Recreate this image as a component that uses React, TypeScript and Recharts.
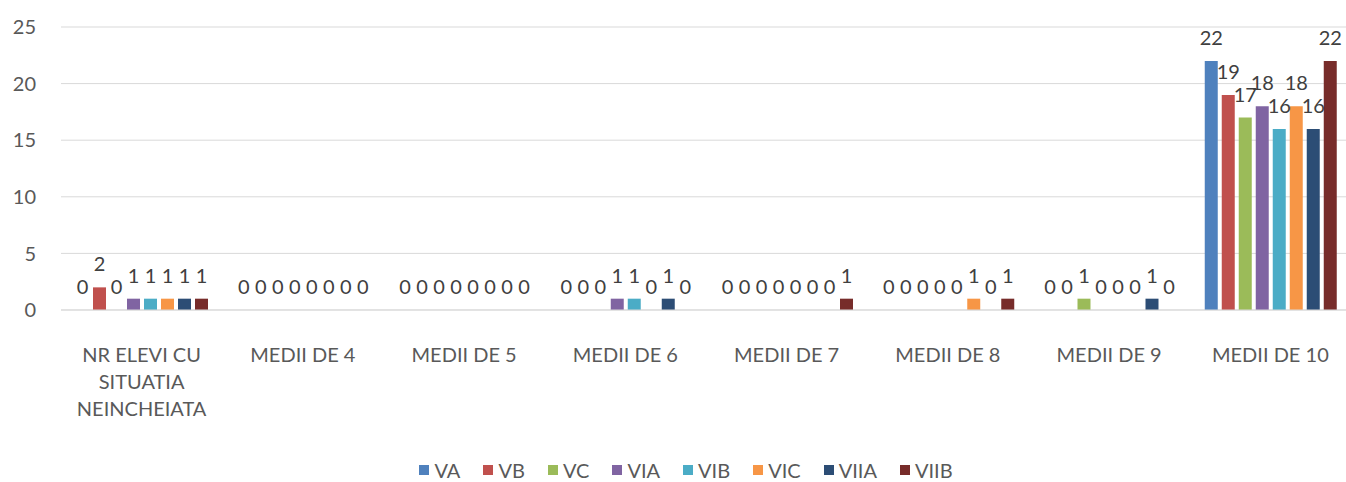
import { BarChart, Bar, XAxis, YAxis, CartesianGrid, Legend, LabelList } from "recharts";

const categories = [
  "NR ELEVI CU SITUATIA NEINCHEIATA",
  "MEDII DE 4",
  "MEDII DE 5",
  "MEDII DE 6",
  "MEDII DE 7",
  "MEDII DE 8",
  "MEDII DE 9",
  "MEDII DE 10",
];

const VA = [0, 0, 0, 0, 0, 0, 0, 22];
const VB = [2, 0, 0, 0, 0, 0, 0, 19];
const VC = [0, 0, 0, 0, 0, 0, 1, 17];
const VIA = [1, 0, 0, 1, 0, 0, 0, 18];
const VIB = [1, 0, 0, 1, 0, 0, 0, 16];
const VIC = [1, 0, 0, 0, 0, 1, 0, 18];
const VIIA = [1, 0, 0, 1, 0, 0, 1, 16];
const VIIB = [1, 0, 0, 0, 1, 1, 0, 22];

const yTicks = [0, 5, 10, 15, 20, 25];

const series = [
  { name: "VA", values: VA, color: "#4F81BD" },
  { name: "VB", values: VB, color: "#C0504D" },
  { name: "VC", values: VC, color: "#9BBB59" },
  { name: "VIA", values: VIA, color: "#8064A2" },
  { name: "VIB", values: VIB, color: "#4BACC6" },
  { name: "VIC", values: VIC, color: "#F79646" },
  { name: "VIIA", values: VIIA, color: "#2C4D75" },
  { name: "VIIB", values: VIIB, color: "#772C2A" },
];

const data = categories.map((cat, i) => {
  const row: any = { cat };
  series.forEach((s) => (row[s.name] = s.values[i]));
  return row;
});

const FONT = "Lato, 'Liberation Sans', sans-serif";

// greedy wrap, roughly how excel broke the long label
function wrap(label: string, max = 11) {
  const words = label.split(" ");
  const lines: string[] = [];
  let cur = "";
  words.forEach((w) => {
    if (cur && (cur + " " + w).length > max) {
      lines.push(cur);
      cur = w;
    } else {
      cur = cur ? cur + " " + w : w;
    }
  });
  if (cur) lines.push(cur);
  return lines;
}

function CatTick(props: any) {
  const { x, y, payload } = props;
  const lines = wrap(payload.value);
  return (
    <text x={x} y={y} textAnchor="middle" fill="#595959" fontSize={20} fontFamily={FONT}>
      {lines.map((l, i) => (
        <tspan key={i} x={x} dy={i === 0 ? 52 : 27}>
          {l}
        </tspan>
      ))}
    </text>
  );
}

// zero bars still get their "0" like in excel
function ValueLabel(props: any) {
  const { x, y, width, height, value } = props;
  const top = height < 0 ? y + height : y;
  return (
    <text x={x + width / 2} y={top - 16} textAnchor="middle" fill="#404040" fontSize={20} fontFamily={FONT}>
      {value}
    </text>
  );
}

function LegendBox() {
  return (
    <div
      style={{
        display: "flex",
        justifyContent: "center",
        height: 24,
        alignItems: "center",
        paddingLeft: 44,
        fontFamily: FONT,
        fontSize: 20,
        color: "#595959",
      }}
    >
      {series.map((s) => (
        <div key={s.name} style={{ display: "flex", alignItems: "center", marginRight: 23 }}>
          <span style={{ width: 10, height: 10, background: s.color, marginRight: 5, display: "inline-block" }} />
          <span>{s.name}</span>
        </div>
      ))}
    </div>
  );
}

export default function App() {
  return (
    <div style={{ position: "absolute", left: 0, top: 0, width: 1346, height: 482, overflow: "hidden", background: "#fff" }}>
      <BarChart
        width={1351}
        height={482}
        data={data}
        margin={{ top: 27, right: 0, bottom: 0, left: 0 }}
        barGap={4}
      >
        <CartesianGrid vertical={false} stroke="#d9d9d9" />
        <XAxis
          dataKey="cat"
          axisLine={{ stroke: "#d9d9d9" }}
          tickLine={false}
          tickSize={0}
          tickMargin={0}
          height={148}
          interval={0}
          tick={<CatTick />}
        />
        <YAxis
          domain={[0, 25]}
          ticks={yTicks}
          width={61}
          axisLine={false}
          tickLine={false}
          tickSize={6}
          tickMargin={19}
          tick={{ fill: "#595959", fontSize: 20, fontFamily: FONT }}
        />
        <Legend verticalAlign="bottom" content={() => <LegendBox />} />
        {series.map((s) => (
          <Bar
            key={s.name}
            dataKey={s.name}
            fill={s.color}
            barSize={13}
            minPointSize={0.01}
            isAnimationActive={false}
          >
            <LabelList dataKey={s.name} content={<ValueLabel />} />
          </Bar>
        ))}
      </BarChart>
    </div>
  );
}
